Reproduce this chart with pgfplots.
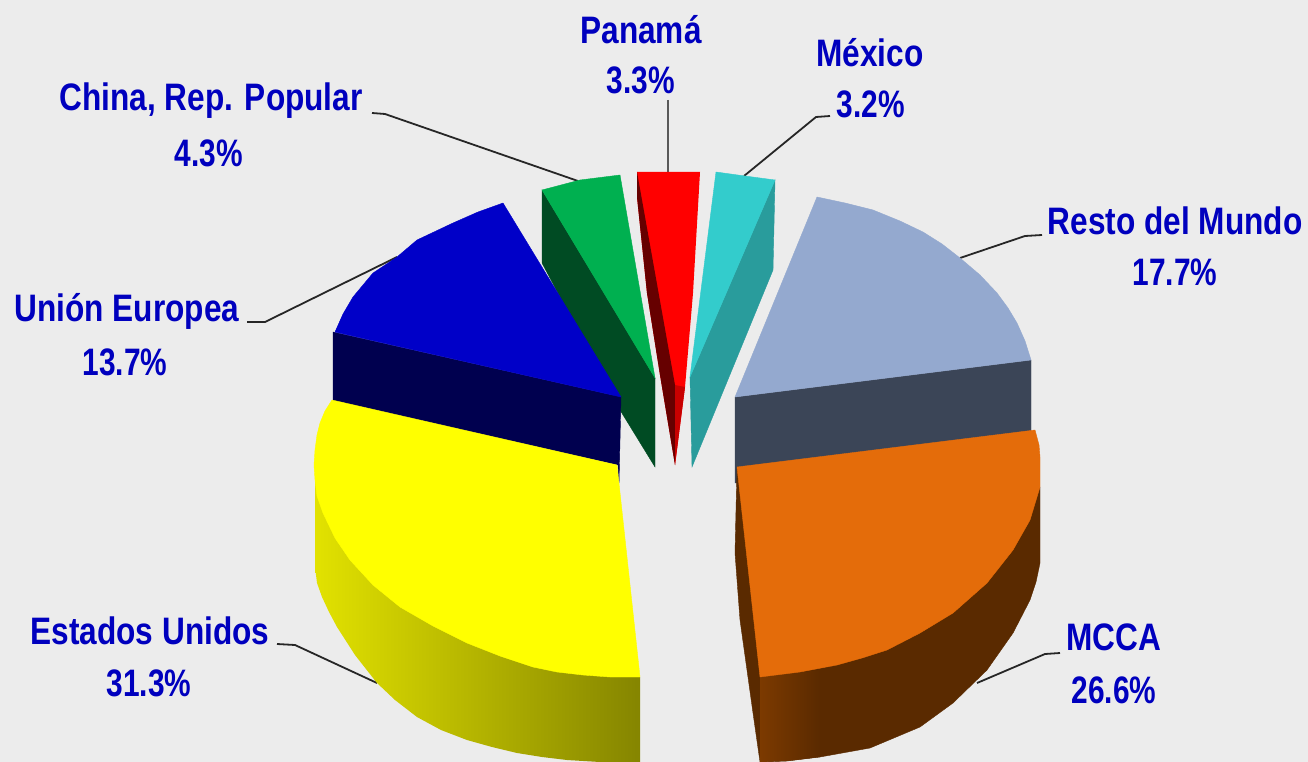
\documentclass[border=0pt]{standalone}
\usepackage{pgfplots}
\pgfplotsset{compat=1.18}
\usepackage{fontspec}
\setmainfont{Liberation Sans}
\definecolor{bg}{HTML}{ECECEC}
\definecolor{lab}{HTML}{0000BE}
\definecolor{gtop}{HTML}{00B050}
\definecolor{gside}{HTML}{004B23}
\definecolor{rtop}{HTML}{FF0000}
\definecolor{rside}{HTML}{660000}
\definecolor{rlow}{HTML}{C80000}
\definecolor{ttop}{HTML}{33CCCC}
\definecolor{tside}{HTML}{299C9C}
\definecolor{ntop}{HTML}{0000C8}
\definecolor{nside}{HTML}{00004F}
\definecolor{ytop}{HTML}{FFFF00}
\definecolor{ysl}{HTML}{E2E200}
\definecolor{ysr}{HTML}{858500}
\definecolor{stop}{HTML}{94A9CF}
\definecolor{sside}{HTML}{3B4557}
\definecolor{otop}{HTML}{E46C0A}
\definecolor{osl}{HTML}{7C3A00}
\definecolor{osr}{HTML}{5A2A00}
\newcommand{\lbl}[1]{\scalebox{1.09}[1.32]{\fontsize{29}{34}\selectfont\bfseries #1}}
\newcommand{\num}[1]{\scalebox{1.03}[1.32]{\fontsize{29}{34}\selectfont\bfseries #1}}
\begin{document}
\begin{tikzpicture}
\begin{axis}[scale only axis,width=1308pt,height=762pt,xmin=0,xmax=1308,ymin=0,ymax=762,y dir=reverse,hide axis,no markers,clip=true]
\addplot[fill=bg,draw=none] coordinates {(0,0)(1308,0)(1308,762)(0,762)} --cycle;
% leader lines
\addplot[black!85,line width=1.8pt] coordinates {(372,113)(385,114)(578,181)};
\addplot[black!65,line width=2pt] coordinates {(668,100)(668,172)};
\addplot[black!85,line width=1.8pt] coordinates {(830,116)(816,117)(744,176)};
\addplot[black!85,line width=1.8pt] coordinates {(1042,235)(1025,236)(960,258)};
\addplot[black!85,line width=1.8pt] coordinates {(247,322)(265,322)(397,257)};
\addplot[black!85,line width=1.8pt] coordinates {(277,644)(295,645)(377,683)};
\addplot[black!85,line width=1.8pt] coordinates {(1060,653)(1045,654)(977,683)};
% China
\addplot[fill=gside,draw=gside,line width=0.4pt] coordinates {(542,190)(542,263)(620,410)(655,467)(655,378)} --cycle;
\addplot[fill=gtop,draw=gtop,line width=0.4pt] coordinates {(542,190)(580,180)(620,175)(655,378)} --cycle;
% Union Europea
\addplot[fill=nside,draw=nside,line width=0.4pt] coordinates {(333,332)(333,401)(618,465)(619,483)(621,397)} --cycle;
\addplot[fill=ntop,draw=ntop,line width=0.4pt] coordinates {(621,397)(503,203)(478,212)(453,223)(417,240)(397,257)(373,273)(353,297)(343,314)(335,332)} --cycle;
% Panama
\addplot[fill=rtop,draw=none] coordinates {(637,172)(700,172)(693,293)(685,387)(675,465)(660,375)(647,293)(637,197)} --cycle;
\addplot[fill=rside,draw=none] coordinates {(637,172)(675,385)(675,465)(660,375)(647,293)(637,197)} --cycle;
\addplot[fill=rlow,draw=none] coordinates {(675,385)(685,387)(675,465)} --cycle;
% Mexico
\addplot[fill=tside,draw=tside,line width=0.4pt] coordinates {(775,180)(773,270)(692,467)(690,377)} --cycle;
\addplot[fill=ttop,draw=ttop,line width=0.4pt] coordinates {(716,172)(745,176)(775,180)(690,377)} --cycle;
% Estados Unidos
\addplot[left color=ysl,right color=ysr,draw=none] coordinates {(315,480)(315,567)(317,583)(322,597)(329,612)(337,627)(355,655)(377,683)(395,700)(417,717)(441,730)(467,740)(492,747)(517,753)(542,757)(567,760)(600,762)(640,762)(640,677)} --cycle;
\addplot[fill=ytop,draw=ytop,line width=0.4pt] coordinates {(332,400)(617,465)(640,677)(610,677)(583,675)(557,672)(533,667)(500,656)(467,643)(433,626)(400,607)(373,585)(350,560)(335,538)(323,513)(317,496)(315,480)(314,465)(315,450)(317,435)(320,423)(325,411)} --cycle;
% Resto
\addplot[fill=sside,draw=sside,line width=0.4pt] coordinates {(735,397)(1031,360)(1031,440)(735,483)} --cycle;
\addplot[fill=stop,draw=stop,line width=0.4pt] coordinates {(817,197)(845,203)(873,210)(900,221)(923,232)(942,244)(960,258)(980,275)(997,293)(1008,308)(1017,323)(1025,341)(1031,360)(735,397)} --cycle;
% MCCA
\addplot[fill=osr,draw=osr,line width=0.4pt] coordinates {(737,467)(735,553)(740,620)(753,713)(760,762)(787,761)(820,757)(870,748)(920,727)(953,703)(987,670)(1013,633)(1030,600)(1036,582)(1040,563)(1040,487)} --cycle;
\addplot[left color=osl,right color=osr,draw=none] coordinates {(760,677)(760,762)(787,761)(820,757)(820,670)} --cycle;
\addplot[fill=otop,draw=otop,line width=0.4pt] coordinates {(737,467)(1035,430)(1039,445)(1040,457)(1040,487)(1030,520)(1013,550)(987,583)(953,613)(920,633)(887,650)(862,658)(837,665)(800,672)(760,677)} --cycle;
% labels
\node[text=lab] at (axis cs:641,30) {\lbl{Panamá}};
\node[text=lab] at (axis cs:641,80) {\num{3.3\%}};
\node[text=lab] at (axis cs:870,53) {\lbl{México}};
\node[text=lab] at (axis cs:871,104) {\num{3.2\%}};
\node[text=lab] at (axis cs:1175,221) {\lbl{Resto del Mundo}};
\node[text=lab] at (axis cs:1175,272) {\num{17.7\%}};
\node[text=lab] at (axis cs:211,101) {\lbl{China, Rep. Popular}};
\node[text=lab] at (axis cs:209,153) {\num{4.3\%}};
\node[text=lab] at (axis cs:127,311) {\lbl{Unión Europea}};
\node[text=lab] at (axis cs:125,362) {\num{13.7\%}};
\node[text=lab] at (axis cs:150,631) {\lbl{Estados Unidos}};
\node[text=lab] at (axis cs:149,683) {\num{31.3\%}};
\node[text=lab] at (axis cs:1114,637) {\lbl{MCCA}};
\node[text=lab] at (axis cs:1114,690) {\num{26.6\%}};
\end{axis}
\end{tikzpicture}
\end{document}
